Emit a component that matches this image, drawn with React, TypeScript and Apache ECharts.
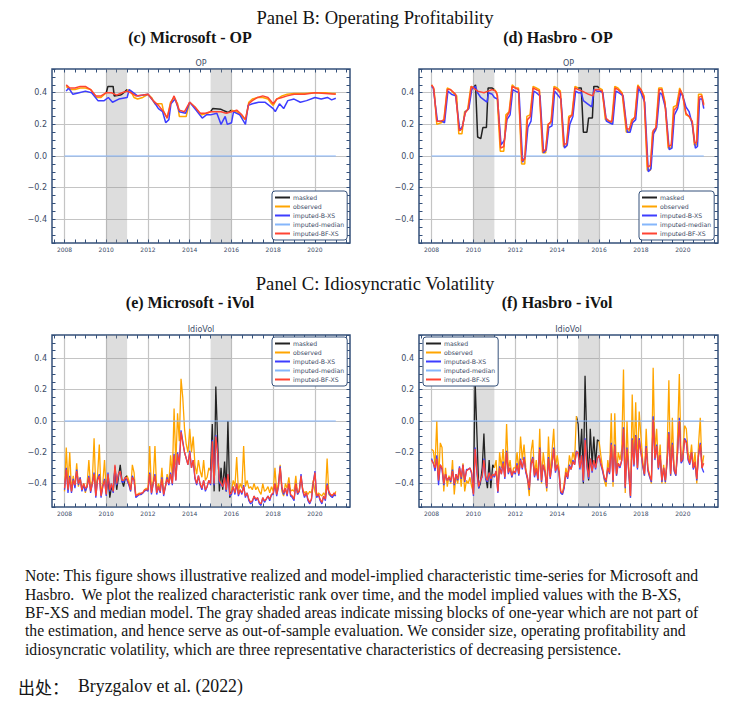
import React, { useEffect, useRef } from "react";
import * as echarts from "echarts";

// ---------- labels / ticks ----------
const SERIES_NAMES = ["masked", "observed", "imputed-B-XS", "imputed-median", "imputed-BF-XS"];
const SERIES_COLORS = ["#222222", "#ffa500", "#3d3dff", "#85b6fb", "#ff4433"];
const X_LABEL_YEARS = [2008, 2010, 2012, 2014, 2016, 2018, 2020];
const Y_LABEL_VALUES = [-0.4, -0.2, 0, 0.2, 0.4];
const MASKED_BLOCKS = [[2010, 2011], [2015, 2016]];
const MEDIAN_LINE = [[2008.0, 0], [2021.0, 0]];

// ---------- Panel B: Microsoft OP ([year, value]) ----------
const msftOpObserved = [
  [2008.08, 0.44], [2008.25, 0.42], [2008.5, 0.42], [2008.75, 0.43], [2009.0, 0.43], [2009.25, 0.42], [2009.42, 0.39],
  [2009.55, 0.37], [2009.75, 0.37], [2009.92, 0.39], [2010.0, 0.40], [2010.5, null],
  [2011.0, 0.42], [2011.17, 0.41], [2011.33, 0.37], [2011.5, 0.36], [2011.75, 0.37], [2012.0, 0.39], [2012.17, 0.37],
  [2012.33, 0.33], [2012.5, 0.33], [2012.67, 0.33], [2012.75, 0.28], [2012.92, 0.24], [2013.08, 0.34], [2013.25, 0.37],
  [2013.42, 0.33], [2013.5, 0.25], [2013.83, 0.25], [2013.92, 0.30], [2014.0, 0.34], [2014.25, 0.31], [2014.42, 0.28],
  [2014.58, 0.26], [2014.83, 0.27], [2015.0, 0.28], [2015.5, null],
  [2016.0, 0.29], [2016.25, 0.28], [2016.42, 0.26], [2016.67, 0.23], [2016.83, 0.34], [2017.0, 0.36], [2017.25, 0.37],
  [2017.5, 0.37], [2017.75, 0.36], [2017.92, 0.33], [2018.0, 0.32], [2018.17, 0.36], [2018.42, 0.38], [2018.67, 0.39],
  [2019.0, 0.395], [2019.5, 0.395], [2020.0, 0.40], [2020.5, 0.40], [2020.83, 0.395], [2021.0, 0.395],
];
const msftOpMasked = [
  [2010.0, 0.40], [2010.08, 0.44], [2010.33, 0.44], [2010.38, 0.38], [2010.67, 0.385], [2010.75, 0.39], [2010.92, 0.41],
  [2011.0, 0.42], [2013.0, null],
  [2015.0, 0.28], [2015.1, 0.30], [2015.5, 0.295], [2015.58, 0.29], [2015.75, 0.28], [2015.83, 0.275], [2016.0, 0.29],
];
const msftOpBXS = [
  [2008.08, 0.41], [2008.2, 0.43], [2008.4, 0.39], [2008.7, 0.40], [2009.0, 0.41], [2009.3, 0.40], [2009.6, 0.35],
  [2009.9, 0.35], [2010.1, 0.37], [2010.3, 0.34], [2010.6, 0.36], [2011.0, 0.37], [2011.1, 0.42], [2011.5, 0.38],
  [2012.0, 0.39], [2012.3, 0.34], [2012.5, 0.30], [2012.7, 0.28], [2012.85, 0.21], [2013.0, 0.23], [2013.1, 0.33],
  [2013.3, 0.36], [2013.5, 0.28], [2013.8, 0.27], [2014.0, 0.34], [2014.3, 0.29], [2014.6, 0.24], [2014.8, 0.26],
  [2015.0, 0.26], [2015.3, 0.27], [2015.5, 0.20], [2015.7, 0.25], [2015.8, 0.20], [2016.0, 0.21], [2016.1, 0.28],
  [2016.4, 0.26], [2016.67, 0.20], [2016.8, 0.32], [2017.0, 0.33], [2017.3, 0.34], [2017.6, 0.34], [2018.0, 0.30],
  [2018.1, 0.28], [2018.3, 0.33], [2018.5, 0.30], [2018.7, 0.35], [2019.0, 0.36], [2019.3, 0.34], [2019.6, 0.35],
  [2020.0, 0.37], [2020.3, 0.36], [2020.6, 0.37], [2020.8, 0.355], [2021.0, 0.365],
];
const msftOpBFXS = [
  [2008.08, 0.45], [2008.25, 0.43], [2008.5, 0.43], [2008.75, 0.44], [2009.0, 0.44], [2009.25, 0.42], [2009.5, 0.38],
  [2009.75, 0.38], [2010.0, 0.40], [2010.25, 0.40], [2010.5, 0.385], [2010.75, 0.40], [2011.0, 0.41], [2011.17, 0.40],
  [2011.42, 0.38], [2011.75, 0.385], [2012.0, 0.39], [2012.25, 0.35], [2012.5, 0.32], [2012.75, 0.28], [2012.92, 0.24],
  [2013.08, 0.33], [2013.25, 0.38], [2013.5, 0.29], [2013.75, 0.28], [2014.0, 0.34], [2014.25, 0.31], [2014.5, 0.27],
  [2014.75, 0.27], [2015.0, 0.28], [2015.25, 0.28], [2015.5, 0.28], [2015.75, 0.27], [2016.0, 0.28], [2016.25, 0.29],
  [2016.5, 0.26], [2016.67, 0.23], [2016.83, 0.33], [2017.0, 0.35], [2017.25, 0.37], [2017.5, 0.38], [2017.75, 0.37],
  [2018.0, 0.33], [2018.17, 0.36], [2018.42, 0.37], [2018.67, 0.38], [2019.0, 0.39], [2019.5, 0.39], [2020.0, 0.40],
  [2020.5, 0.395], [2021.0, 0.39],
];

// ---------- Panel B: Hasbro OP ([year, value]) ----------
const hasOpObserved = [
  [2008.0, 0.45], [2008.12, 0.42], [2008.25, 0.20], [2008.45, 0.21], [2008.58, 0.22], [2008.75, 0.43], [2008.9, 0.42],
  [2009.1, 0.39], [2009.2, 0.38], [2009.3, 0.14], [2009.45, 0.14], [2009.58, 0.28], [2009.72, 0.29], [2009.88, 0.44],
  [2010.0, 0.43], [2010.5, null],
  [2011.0, 0.42], [2011.12, 0.40], [2011.28, 0.03], [2011.45, 0.03], [2011.55, 0.26], [2011.7, 0.28], [2011.85, 0.45],
  [2012.0, 0.43], [2012.15, 0.43], [2012.3, -0.05], [2012.45, -0.05], [2012.55, 0.25], [2012.7, 0.26], [2012.85, 0.44],
  [2013.0, 0.43], [2013.15, 0.42], [2013.3, 0.02], [2013.45, 0.02], [2013.55, 0.20], [2013.7, 0.21], [2013.85, 0.44],
  [2014.0, 0.43], [2014.15, 0.41], [2014.3, 0.06], [2014.45, 0.06], [2014.55, 0.25], [2014.7, 0.26], [2014.85, 0.44],
  [2015.0, 0.43], [2015.5, null],
  [2016.0, 0.43], [2016.15, 0.42], [2016.3, 0.23], [2016.45, 0.22], [2016.6, 0.21], [2016.75, 0.44], [2016.9, 0.43],
  [2017.1, 0.40], [2017.3, 0.15], [2017.45, 0.16], [2017.55, 0.23], [2017.7, 0.24], [2017.85, 0.45], [2018.0, 0.42],
  [2018.15, 0.38], [2018.3, -0.09], [2018.45, -0.09], [2018.55, 0.15], [2018.7, 0.16], [2018.85, 0.43], [2019.0, 0.43],
  [2019.15, 0.34], [2019.3, 0.05], [2019.45, 0.05], [2019.55, 0.31], [2019.7, 0.32], [2019.85, 0.43], [2020.0, 0.38],
  [2020.15, 0.26], [2020.3, 0.25], [2020.45, 0.21], [2020.55, 0.07], [2020.65, 0.07], [2020.75, 0.39], [2020.9, 0.39],
  [2021.0, 0.33],
];
const hasOpMasked = [
  [2010.0, 0.43], [2010.1, 0.45], [2010.2, 0.12], [2010.35, 0.11], [2010.45, 0.18], [2010.62, 0.18], [2010.7, 0.43],
  [2010.88, 0.43], [2011.0, 0.42], [2013.0, null],
  [2015.0, 0.43], [2015.15, 0.43], [2015.25, 0.15], [2015.42, 0.15], [2015.5, 0.24], [2015.68, 0.24], [2015.75, 0.44],
  [2015.92, 0.44], [2016.0, 0.43],
];
const hasOpBXS = [
  [2008.0, 0.44], [2008.08, 0.43], [2008.28, 0.22], [2008.5, 0.22], [2008.62, 0.21], [2008.78, 0.41], [2008.95, 0.39],
  [2009.15, 0.38], [2009.35, 0.16], [2009.48, 0.19], [2009.62, 0.28], [2009.78, 0.30], [2009.92, 0.42], [2010.0, 0.43],
  [2010.1, 0.44], [2010.2, 0.40], [2010.35, 0.37], [2010.55, 0.35], [2010.65, 0.34], [2010.72, 0.40], [2010.9, 0.39],
  [2011.0, 0.37], [2011.15, 0.36], [2011.32, 0.07], [2011.48, 0.10], [2011.6, 0.23], [2011.75, 0.26], [2011.88, 0.42],
  [2012.0, 0.41], [2012.18, 0.40], [2012.35, -0.04], [2012.48, 0.0], [2012.6, 0.18], [2012.75, 0.22], [2012.88, 0.41],
  [2013.0, 0.40], [2013.18, 0.38], [2013.35, 0.02], [2013.48, 0.04], [2013.6, 0.18], [2013.75, 0.19], [2013.88, 0.41],
  [2014.0, 0.39], [2014.18, 0.36], [2014.35, 0.05], [2014.48, 0.07], [2014.6, 0.20], [2014.75, 0.25], [2014.88, 0.41],
  [2015.0, 0.40], [2015.15, 0.40], [2015.25, 0.35], [2015.45, 0.33], [2015.65, 0.31], [2015.75, 0.42], [2015.9, 0.41],
  [2016.05, 0.41], [2016.18, 0.40], [2016.35, 0.22], [2016.5, 0.21], [2016.65, 0.20], [2016.8, 0.41], [2016.95, 0.40],
  [2017.15, 0.38], [2017.35, 0.15], [2017.48, 0.15], [2017.6, 0.21], [2017.75, 0.23], [2017.88, 0.43], [2018.0, 0.40],
  [2018.18, 0.34], [2018.35, -0.10], [2018.48, -0.08], [2018.6, 0.14], [2018.75, 0.18], [2018.9, 0.40], [2019.0, 0.39],
  [2019.18, 0.30], [2019.35, 0.04], [2019.48, 0.05], [2019.6, 0.26], [2019.75, 0.30], [2019.9, 0.40], [2020.0, 0.38],
  [2020.15, 0.31], [2020.3, 0.28], [2020.45, 0.20], [2020.6, 0.05], [2020.7, 0.06], [2020.8, 0.36], [2020.92, 0.36],
  [2021.0, 0.30],
];
const hasOpBFXS = [
  [2008.0, 0.45], [2008.1, 0.43], [2008.25, 0.22], [2008.45, 0.22], [2008.6, 0.23], [2008.75, 0.42], [2008.9, 0.42],
  [2009.15, 0.39], [2009.32, 0.16], [2009.45, 0.17], [2009.6, 0.27], [2009.75, 0.30], [2009.9, 0.44], [2010.0, 0.43],
  [2010.2, 0.41], [2010.5, 0.40], [2010.7, 0.41], [2010.9, 0.42], [2011.05, 0.41], [2011.15, 0.38], [2011.3, 0.05],
  [2011.45, 0.06], [2011.6, 0.25], [2011.72, 0.28], [2011.85, 0.44], [2012.0, 0.43], [2012.15, 0.42], [2012.32, -0.03],
  [2012.45, -0.02], [2012.58, 0.23], [2012.72, 0.25], [2012.85, 0.43], [2013.0, 0.42], [2013.15, 0.41], [2013.32, 0.03],
  [2013.45, 0.04], [2013.58, 0.20], [2013.72, 0.22], [2013.85, 0.43], [2014.0, 0.42], [2014.15, 0.40], [2014.32, 0.07],
  [2014.45, 0.08], [2014.58, 0.24], [2014.72, 0.26], [2014.85, 0.43], [2015.0, 0.42], [2015.2, 0.41], [2015.5, 0.39],
  [2015.7, 0.38], [2015.8, 0.42], [2016.0, 0.42], [2016.15, 0.41], [2016.32, 0.24], [2016.5, 0.22], [2016.62, 0.22],
  [2016.77, 0.43], [2016.9, 0.42], [2017.12, 0.39], [2017.32, 0.17], [2017.45, 0.17], [2017.58, 0.22], [2017.72, 0.25],
  [2017.85, 0.44], [2018.0, 0.42], [2018.15, 0.37], [2018.32, -0.07], [2018.45, -0.06], [2018.58, 0.16], [2018.72, 0.18],
  [2018.87, 0.42], [2019.0, 0.42], [2019.15, 0.33], [2019.32, 0.06], [2019.45, 0.07], [2019.58, 0.29], [2019.72, 0.31],
  [2019.87, 0.42], [2020.0, 0.38], [2020.15, 0.27], [2020.3, 0.25], [2020.45, 0.22], [2020.57, 0.08], [2020.67, 0.09],
  [2020.77, 0.37], [2020.9, 0.38], [2021.0, 0.32],
];

// ---------- Panel C: Microsoft iVol (monthly from 2008-01, one row per year) ----------
const msftVolObserved = [
  -0.45, -0.17, -0.40, -0.20, -0.45, -0.35, -0.42, -0.27, -0.42, -0.36, -0.44, -0.40,
  -0.46, -0.40, -0.25, -0.43, -0.38, -0.11, -0.45, -0.35, -0.15, -0.47, -0.40, -0.25,
  -0.45, null, null, null, null, null, null, null, null, null, null, null,
  -0.35, -0.38, -0.45, -0.28, -0.33, -0.48, -0.47, -0.46, -0.47, -0.46, -0.44, -0.43,
  -0.44, -0.16, -0.45, -0.38, -0.16, -0.45, -0.40, -0.44, -0.30, -0.46, -0.42, -0.34,
  -0.40, -0.22, -0.36, 0.08, -0.28, 0.05, -0.13, 0.27, 0.15, -0.05, -0.15, -0.20,
  -0.05, -0.20, -0.10, -0.28, -0.34, -0.25, -0.32, -0.36, -0.25, -0.38, -0.36, -0.30,
  -0.32, null, null, null, null, null, null, null, null, null, null, null,
  -0.45, -0.38, -0.42, -0.23, -0.45, -0.40, -0.43, -0.16, -0.42, -0.38, -0.43, -0.42,
  -0.44, -0.40, -0.44, -0.42, -0.45, -0.47, -0.40, -0.45, -0.44, -0.42, -0.46, -0.42,
  -0.45, -0.30, -0.45, -0.40, -0.28, -0.45, -0.48, -0.40, -0.43, -0.36, -0.45, -0.44,
  -0.45, -0.35, -0.47, -0.44, -0.37, -0.44, -0.46, -0.45, -0.47, -0.45, -0.46, -0.38,
  -0.45, -0.48, -0.46, -0.47, -0.48, -0.46, -0.48, -0.24, -0.47, -0.48, -0.47, -0.48,
  -0.45,
];
const msftVolMasked = [
  [2010.0, -0.45], [2010.08, -0.35], [2010.17, -0.49], [2010.25, -0.42], [2010.33, -0.45], [2010.42, -0.30],
  [2010.5, -0.44], [2010.58, -0.36], [2010.67, -0.28], [2010.75, -0.38], [2010.83, -0.42], [2010.92, -0.36],
  [2011.0, -0.35], [2013.0, null],
  [2015.0, -0.32], [2015.08, -0.02], [2015.17, -0.45], [2015.25, 0.22], [2015.33, -0.10], [2015.42, -0.45],
  [2015.5, -0.30], [2015.58, -0.44], [2015.67, -0.26], [2015.75, -0.45], [2015.83, 0.0], [2015.92, -0.49],
  [2016.0, -0.45],
];
const msftVolBXS = [
  -0.44, -0.30, -0.46, -0.35, -0.46, -0.37, -0.43, -0.31, -0.41, -0.36, -0.45, -0.41,
  -0.45, -0.42, -0.35, -0.46, -0.40, -0.33, -0.49, -0.37, -0.34, -0.49, -0.42, -0.37,
  -0.48, -0.33, -0.45, -0.40, -0.46, -0.29, -0.41, -0.34, -0.32, -0.39, -0.39, -0.36,
  -0.38, -0.41, -0.45, -0.35, -0.38, -0.49, -0.48, -0.47, -0.47, -0.46, -0.45, -0.44,
  -0.45, -0.33, -0.47, -0.40, -0.34, -0.47, -0.42, -0.46, -0.36, -0.48, -0.42, -0.36,
  -0.41, -0.33, -0.41, -0.21, -0.38, -0.20, -0.28, -0.06, -0.13, -0.20, -0.24, -0.28,
  -0.19, -0.30, -0.25, -0.37, -0.41, -0.35, -0.41, -0.44, -0.38, -0.45, -0.42, -0.38,
  -0.41, -0.12, -0.41, -0.09, -0.20, -0.39, -0.41, -0.42, -0.36, -0.45, -0.34, -0.48,
  -0.47, -0.42, -0.47, -0.40, -0.48, -0.44, -0.47, -0.41, -0.49, -0.46, -0.51, -0.53,
  -0.52, -0.48, -0.51, -0.49, -0.53, -0.54, -0.49, -0.52, -0.50, -0.48, -0.51, -0.47,
  -0.47, -0.40, -0.48, -0.42, -0.29, -0.43, -0.47, -0.43, -0.48, -0.40, -0.48, -0.49,
  -0.51, -0.40, -0.47, -0.45, -0.34, -0.45, -0.49, -0.46, -0.51, -0.53, -0.50, -0.40,
  -0.32, -0.49, -0.47, -0.51, -0.53, -0.48, -0.51, -0.40, -0.46, -0.48, -0.49, -0.47,
  -0.48,
];
const msftVolBFXS = [
  -0.43, -0.31, -0.44, -0.36, -0.45, -0.38, -0.41, -0.32, -0.40, -0.37, -0.44, -0.40,
  -0.43, -0.42, -0.36, -0.45, -0.40, -0.34, -0.48, -0.38, -0.35, -0.48, -0.42, -0.38,
  -0.47, -0.34, -0.44, -0.40, -0.45, -0.28, -0.40, -0.34, -0.32, -0.38, -0.38, -0.36,
  -0.37, -0.40, -0.44, -0.36, -0.38, -0.48, -0.47, -0.47, -0.46, -0.46, -0.44, -0.44,
  -0.44, -0.34, -0.46, -0.40, -0.35, -0.46, -0.42, -0.45, -0.37, -0.47, -0.42, -0.37,
  -0.40, -0.34, -0.40, -0.22, -0.38, -0.21, -0.28, -0.07, -0.14, -0.20, -0.24, -0.28,
  -0.20, -0.30, -0.25, -0.36, -0.40, -0.35, -0.40, -0.43, -0.38, -0.44, -0.42, -0.38,
  -0.40, -0.13, -0.40, -0.10, -0.20, -0.38, -0.40, -0.42, -0.36, -0.44, -0.34, -0.47,
  -0.46, -0.42, -0.46, -0.40, -0.47, -0.44, -0.46, -0.42, -0.48, -0.46, -0.50, -0.52,
  -0.51, -0.48, -0.50, -0.49, -0.52, -0.53, -0.49, -0.51, -0.50, -0.48, -0.50, -0.47,
  -0.46, -0.40, -0.47, -0.42, -0.30, -0.42, -0.46, -0.43, -0.47, -0.40, -0.47, -0.48,
  -0.50, -0.40, -0.46, -0.45, -0.35, -0.44, -0.48, -0.46, -0.50, -0.52, -0.50, -0.40,
  -0.33, -0.48, -0.47, -0.50, -0.52, -0.48, -0.50, -0.41, -0.45, -0.47, -0.48, -0.46,
  -0.47,
];

// ---------- Panel C: Hasbro iVol (monthly from 2008-01, one row per year) ----------
const hasVolObserved = [
  -0.18, -0.19, -0.28, 0.00, -0.38, -0.14, -0.17, -0.45, -0.30, -0.42, -0.35, -0.40,
  -0.25, -0.47, -0.35, -0.40, -0.30, -0.42, -0.27, -0.45, -0.38, -0.40, -0.36, -0.42,
  -0.46, null, null, null, null, null, null, null, null, null, null, null,
  -0.30, -0.25, -0.45, -0.20, -0.30, -0.18, -0.35, -0.02, -0.32, -0.25, -0.36, -0.30,
  -0.30, -0.20, -0.33, -0.10, -0.25, -0.15, -0.30, -0.38, -0.48, -0.20, -0.12, -0.35,
  -0.25, -0.38, -0.05, -0.40, -0.20, -0.30, -0.45, -0.10, -0.35, -0.20, -0.05, -0.30,
  -0.22, -0.30, -0.45, -0.47, -0.40, -0.30, -0.35, -0.22, -0.28, -0.20, -0.25, 0.03,
  null, null, null, null, null, null, null, null, null, null, null, null,
  -0.13, -0.22, -0.30, -0.38, -0.42, -0.25, -0.33, 0.05, -0.42, 0.05, -0.35, -0.20,
  -0.25, -0.18, 0.33, -0.46, 0.00, -0.30, -0.49, 0.17, -0.25, 0.12, -0.30, 0.06,
  -0.10, -0.25, -0.35, -0.05, -0.30, -0.35, -0.40, 0.34, -0.20, -0.05, -0.30, -0.15,
  -0.40, -0.28, -0.40, -0.20, 0.26, -0.35, 0.02, -0.30, -0.35, -0.10, 0.30, -0.25,
  -0.20, -0.03, -0.05, -0.20, -0.25, -0.15, -0.30, -0.20, -0.40, -0.15, 0.02, -0.30,
  -0.22,
];
const hasVolMasked = [
  [2010.0, -0.46], [2010.08, 0.26], [2010.17, -0.10], [2010.25, -0.43], [2010.33, -0.40], [2010.42, -0.30],
  [2010.5, -0.08], [2010.58, -0.35], [2010.67, -0.43], [2010.75, -0.25], [2010.83, -0.43], [2010.92, -0.28],
  [2011.0, -0.30], [2013.0, null],
  [2014.92, 0.03], [2015.0, -0.02], [2015.08, -0.25], [2015.17, -0.05], [2015.25, -0.40], [2015.33, 0.29],
  [2015.42, -0.15], [2015.5, -0.38], [2015.58, -0.05], [2015.67, -0.28], [2015.75, -0.10], [2015.83, -0.28],
  [2015.92, -0.12], [2016.0, -0.13],
];
const hasVolBXS = [
  -0.24, -0.27, -0.32, -0.22, -0.41, -0.28, -0.31, -0.41, -0.34, -0.38, -0.36, -0.39,
  -0.31, -0.41, -0.34, -0.38, -0.29, -0.37, -0.28, -0.39, -0.31, -0.31, -0.30, -0.34,
  -0.48, -0.17, -0.33, -0.43, -0.38, -0.36, -0.24, -0.37, -0.39, -0.33, -0.38, -0.34,
  -0.36, -0.32, -0.46, -0.29, -0.34, -0.26, -0.37, -0.19, -0.34, -0.30, -0.36, -0.32,
  -0.34, -0.27, -0.35, -0.24, -0.31, -0.23, -0.33, -0.37, -0.44, -0.27, -0.23, -0.36,
  -0.31, -0.38, -0.17, -0.39, -0.28, -0.33, -0.43, -0.23, -0.37, -0.28, -0.17, -0.33,
  -0.28, -0.33, -0.46, -0.47, -0.43, -0.33, -0.37, -0.28, -0.31, -0.25, -0.28, -0.19,
  -0.21, -0.31, -0.22, -0.39, -0.11, -0.29, -0.37, -0.24, -0.33, -0.25, -0.31, -0.24,
  -0.22, -0.28, -0.32, -0.37, -0.39, -0.30, -0.34, -0.14, -0.39, -0.15, -0.35, -0.27,
  -0.30, -0.25, -0.04, -0.43, -0.17, -0.33, -0.49, -0.11, -0.29, -0.09, -0.31, -0.11,
  -0.20, -0.29, -0.35, -0.16, -0.32, -0.36, -0.39, 0.03, -0.25, -0.15, -0.31, -0.22,
  -0.39, -0.30, -0.39, -0.26, -0.07, -0.35, -0.14, -0.32, -0.35, -0.20, 0.02, -0.27,
  -0.25, -0.11, -0.13, -0.25, -0.28, -0.20, -0.31, -0.27, -0.38, -0.22, -0.14, -0.30,
  -0.33,
];
const hasVolBFXS = [
  -0.25, -0.27, -0.30, -0.24, -0.38, -0.28, -0.30, -0.40, -0.34, -0.38, -0.36, -0.38,
  -0.32, -0.40, -0.34, -0.37, -0.30, -0.36, -0.28, -0.38, -0.32, -0.31, -0.30, -0.33,
  -0.47, -0.18, -0.32, -0.42, -0.38, -0.35, -0.25, -0.36, -0.38, -0.33, -0.37, -0.34,
  -0.35, -0.32, -0.45, -0.30, -0.34, -0.27, -0.36, -0.20, -0.33, -0.30, -0.35, -0.32,
  -0.33, -0.28, -0.34, -0.25, -0.30, -0.24, -0.32, -0.36, -0.43, -0.28, -0.24, -0.35,
  -0.30, -0.37, -0.18, -0.38, -0.28, -0.32, -0.42, -0.24, -0.36, -0.28, -0.18, -0.32,
  -0.28, -0.32, -0.45, -0.46, -0.42, -0.33, -0.36, -0.29, -0.31, -0.26, -0.28, -0.20,
  -0.20, -0.30, -0.22, -0.38, -0.12, -0.28, -0.36, -0.24, -0.32, -0.25, -0.30, -0.24,
  -0.22, -0.27, -0.31, -0.36, -0.38, -0.30, -0.33, -0.15, -0.38, -0.16, -0.34, -0.27,
  -0.29, -0.25, -0.05, -0.42, -0.18, -0.32, -0.48, -0.12, -0.28, -0.10, -0.30, -0.12,
  -0.20, -0.28, -0.34, -0.17, -0.31, -0.35, -0.38, 0.01, -0.24, -0.16, -0.30, -0.22,
  -0.38, -0.30, -0.38, -0.26, -0.08, -0.34, -0.15, -0.31, -0.34, -0.20, 0.00, -0.26,
  -0.24, -0.12, -0.14, -0.24, -0.27, -0.20, -0.30, -0.26, -0.37, -0.22, -0.15, -0.30,
  -0.27,
];

// ---------- texts ----------
const NOTE_LINES = [
  "Note: This figure shows illustrative realized and model-implied characteristic time-series for Microsoft and",
  "Hasbro.  We plot the realized characteristic rank over time, and the model implied values with the B-XS,",
  "BF-XS and median model. The gray shaded areas indicate missing blocks of one-year which are not part of",
  "the estimation, and hence serve as out-of-sample evaluation. We consider size, operating profitability and",
  "idiosyncratic volatility, which are three representative characteristics of decreasing persistence.",
];
const SOURCE_PREFIX = "出处：";
const SOURCE_TEXT = "Bryzgalov et al. (2022)";

// ---------- helpers ----------
const pairs = (arr: any[]) => arr.map((p) => [p[0], p[1] === null ? "-" : p[1]]);
const monthly = (arr: (number | null)[]) => arr.map((v, i) => [2008 + i / 12, v === null ? "-" : v]);

const X_MIN = 2007.4;
const X_MAX = 2021.68;
const Y_MIN = -0.55;
const Y_MAX = 0.55;
const HALF_YEARS: number[] = [];
for (let k = 0; k <= 28; k++) HALF_YEARS.push(2007.5 + k * 0.5);
const Y_MINOR: number[] = [];
for (let k = -11; k <= 11; k++) Y_MINOR.push(Math.round(k * 5) / 100);

const FRAME = "#34507a";
const LABEL = "#3c4b66";
const SANS = '"DejaVu Sans", sans-serif';
const SERIF = '"Liberation Serif", "Times New Roman", serif';

const PANELS = [
  {
    grid: { left: 52, top: 69, width: 298, height: 174 }, title: "OP", legend: { left: 272, top: 191 },
    masked: pairs(msftOpMasked), observed: pairs(msftOpObserved), bxs: pairs(msftOpBXS), bfxs: pairs(msftOpBFXS), width: 1.5,
  },
  {
    grid: { left: 419, top: 69, width: 299, height: 174 }, title: "OP", legend: { left: 639, top: 191 },
    masked: pairs(hasOpMasked), observed: pairs(hasOpObserved), bxs: pairs(hasOpBXS), bfxs: pairs(hasOpBFXS), width: 1.5,
  },
  {
    grid: { left: 52, top: 335, width: 298, height: 172 }, title: "IdioVol", legend: { left: 272, top: 337 },
    masked: pairs(msftVolMasked), observed: monthly(msftVolObserved), bxs: monthly(msftVolBXS), bfxs: monthly(msftVolBFXS), width: 1.3,
  },
  {
    grid: { left: 419, top: 335, width: 299, height: 172 }, title: "IdioVol", legend: { left: 423, top: 337 },
    masked: pairs(hasVolMasked), observed: monthly(hasVolObserved), bxs: monthly(hasVolBXS), bfxs: monthly(hasVolBFXS), width: 1.3,
  },
];

function buildOption() {
  const grid: any[] = [];
  const xAxis: any[] = [];
  const yAxis: any[] = [];
  const series: any[] = [];
  const legend: any[] = [];
  const graphic: any[] = [];

  PANELS.forEach((p, k) => {
    grid.push({
      ...p.grid, show: true, backgroundColor: "#fff", borderColor: FRAME, borderWidth: 1.5,
      containLabel: false, outerBoundsMode: "none",
    });
    const baseX = { type: "value", gridIndex: k, min: X_MIN, max: X_MAX, axisLine: { show: false, onZero: false } };
    xAxis.push({
      ...baseX, position: "bottom",
      axisTick: { show: true, inside: true, length: 3.5, customValues: HALF_YEARS, lineStyle: { color: FRAME, width: 1 } },
      axisLabel: {
        show: true, customValues: X_LABEL_YEARS, fontSize: 6, color: LABEL, fontFamily: SANS, margin: 3,
        formatter: (v: number) => String(Math.round(v)),
      },
      splitLine: { show: false },
    });
    xAxis.push({
      ...baseX, position: "bottom",
      axisTick: { show: false, customValues: X_LABEL_YEARS },
      axisLabel: { show: false },
      splitLine: { show: true, lineStyle: { color: "#c4c4c4", width: 1.2 } },
    });
    xAxis.push({
      ...baseX, position: "top",
      axisTick: { show: true, inside: true, length: 3.5, customValues: HALF_YEARS, lineStyle: { color: FRAME, width: 1 } },
      axisLabel: { show: false },
      splitLine: { show: false },
    });
    const baseY = { type: "value", gridIndex: k, min: Y_MIN, max: Y_MAX, axisLine: { show: false, onZero: false } };
    yAxis.push({
      ...baseY, position: "left",
      axisTick: { show: false, customValues: Y_LABEL_VALUES },
      axisLabel: {
        show: true, customValues: Y_LABEL_VALUES, fontSize: 8, color: LABEL, fontFamily: SANS, margin: 5,
        formatter: (v: number) => (Math.abs(v) < 1e-9 ? "0.0" : (v < 0 ? "\u2212" : "") + Math.abs(v).toFixed(1)),
      },
      splitLine: { show: true, lineStyle: { color: "#c4c4c4", width: 1.2 } },
    });
    yAxis.push({
      ...baseY, position: "left",
      axisTick: { show: true, inside: true, length: 3.5, customValues: Y_MINOR, lineStyle: { color: FRAME, width: 1 } },
      axisLabel: { show: false },
      splitLine: { show: false },
    });
    yAxis.push({
      ...baseY, position: "right",
      axisTick: { show: true, inside: true, length: 3.5, customValues: Y_MINOR, lineStyle: { color: FRAME, width: 1 } },
      axisLabel: { show: false },
      splitLine: { show: false },
    });

    const ax = { xAxisIndex: 3 * k, yAxisIndex: 3 * k };
    series.push({
      type: "line", ...ax, data: [], z: 1, silent: true,
      markArea: {
        silent: true,
        itemStyle: { color: "rgba(150,150,150,0.32)" },
        data: MASKED_BLOCKS.map((b) => [{ xAxis: b[0] }, { xAxis: b[1] }]),
      },
    });
    const datasets = [p.masked, p.observed, p.bxs, MEDIAN_LINE, p.bfxs];
    SERIES_NAMES.forEach((name, j) => {
      series.push({
        type: "line", name, ...ax, data: datasets[j], z: 2 + j,
        showSymbol: false, symbol: "none", connectNulls: false, silent: true,
        lineStyle: { color: SERIES_COLORS[j], width: j === 3 ? 1.2 : p.width },
        itemStyle: { color: SERIES_COLORS[j] },
      });
    });

    legend.push({
      left: p.legend.left, top: p.legend.top, orient: "vertical", data: SERIES_NAMES, selectedMode: false,
      icon: "rect", itemWidth: 15, itemHeight: 2, itemGap: 0, padding: [2, 3, 2, 3],
      backgroundColor: "#fff", borderColor: FRAME, borderWidth: 1, borderRadius: 3,
      textStyle: { fontSize: 6.2, color: LABEL, fontFamily: SANS, lineHeight: 9, padding: [0, 0, 0, -2] },
    });

    graphic.push({
      type: "text", x: p.grid.left + p.grid.width / 2, y: p.grid.top - 6,
      style: { text: p.title, font: `8px ${SANS}`, fill: LABEL, textAlign: "center", textVerticalAlign: "middle" },
    });
  });

  const heading = (text: string, x: number, y: number, font: string) => ({
    type: "text", x, y, style: { text, font, fill: "#141414", textAlign: "center", textVerticalAlign: "middle" },
  });
  graphic.push(heading("Panel B: Operating Profitability", 375, 17, `18.6px ${SERIF}`));
  graphic.push(heading("(c) Microsoft - OP", 190, 37, `bold 16px ${SERIF}`));
  graphic.push(heading("(d) Hasbro - OP", 558, 37, `bold 16px ${SERIF}`));
  graphic.push(heading("Panel C: Idiosyncratic Volatility", 375, 283, `18.6px ${SERIF}`));
  graphic.push(heading("(e) Microsoft - iVol", 190, 302, `bold 16px ${SERIF}`));
  graphic.push(heading("(f) Hasbro - iVol", 557, 302, `bold 16px ${SERIF}`));

  const noteY = [575, 594, 612, 630, 649];
  NOTE_LINES.forEach((t, i) => {
    graphic.push({
      type: "text", x: 25, y: noteY[i],
      style: { text: t, font: `15.7px ${SERIF}`, fill: "#141414", textAlign: "left", textVerticalAlign: "middle" },
    });
  });
  graphic.push({
    type: "text", x: 18, y: 686,
    style: { text: SOURCE_PREFIX, font: `17px "Noto Sans CJK SC", sans-serif`, fill: "#141414", textAlign: "left", textVerticalAlign: "middle" },
  });
  graphic.push({
    type: "text", x: 78, y: 686,
    style: { text: SOURCE_TEXT, font: `17.8px ${SERIF}`, fill: "#141414", textAlign: "left", textVerticalAlign: "middle" },
  });

  return { animation: false, backgroundColor: "#fff", grid, xAxis, yAxis, series, legend, graphic };
}

export default function App() {
  const ref = useRef<HTMLDivElement>(null);
  useEffect(() => {
    if (!ref.current) return;
    const chart = echarts.init(ref.current, null, { renderer: "svg" });
    chart.setOption(buildOption() as any);
    return () => chart.dispose();
  }, []);
  return <div ref={ref} style={{ position: "fixed", left: 0, top: 0, width: 751, height: 705, background: "#fff" }} />;
}
